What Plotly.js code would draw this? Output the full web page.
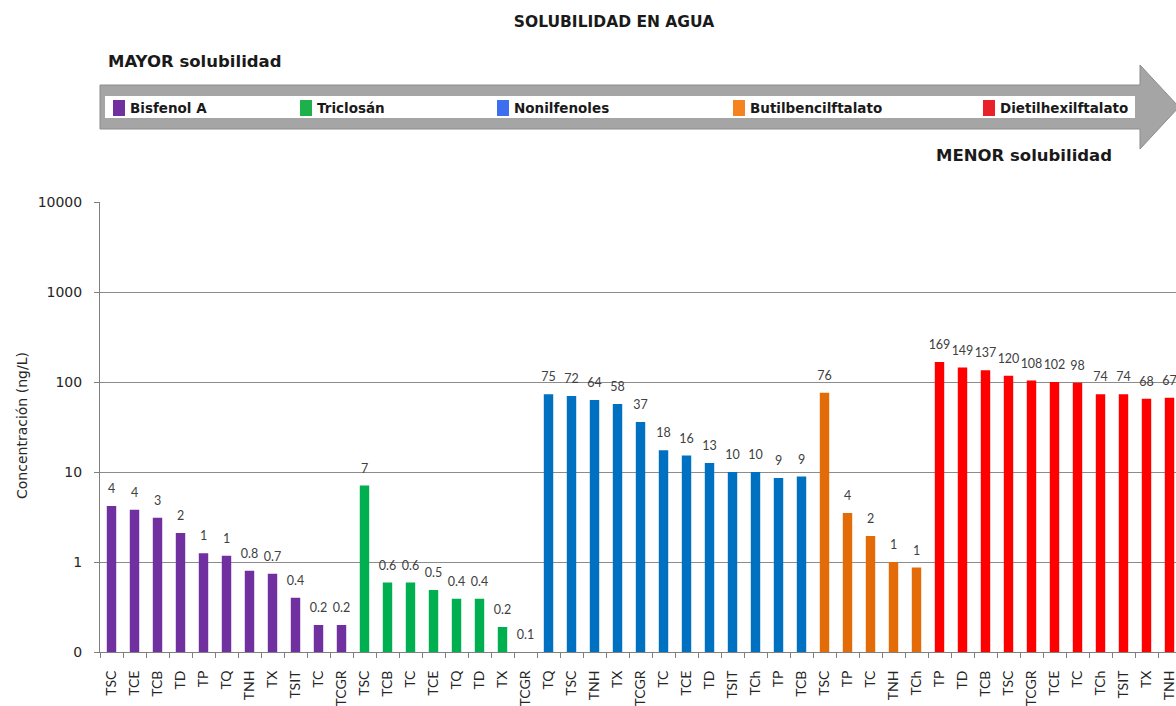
<!DOCTYPE html>
<html>
<head>
<meta charset="utf-8">
<script src="https://cdn.plot.ly/plotly-3.0.1.min.js"></script>
<style>html,body{margin:0;padding:0;background:#fff;}#chart{width:1176px;height:706px;}</style>
</head>
<body>
<div id="chart"></div>
<script>
// ---- Data ----
const groupNames = ['Bisfenol A', 'Triclosán', 'Nonilfenoles', 'Butilbencilftalato', 'Dietilhexilftalato'];

const catsBPA = ['TSC','TCE','TCB','TD','TP','TQ','TNH','TX','TSIT','TC','TCGR'];
const valsBPA = [4.2, 3.8, 3.1, 2.1, 1.25, 1.17, 0.8, 0.74, 0.40, 0.20, 0.20];
const labsBPA = ['4','4','3','2','1','1','0.8','0.7','0.4','0.2','0.2'];

const catsTCS = ['TSC','TCB','TC','TCE','TQ','TD','TX','TCGR'];
const valsTCS = [7.1, 0.59, 0.59, 0.49, 0.39, 0.39, 0.19, 0.1];
const labsTCS = ['7','0.6','0.6','0.5','0.4','0.4','0.2','0.1'];

const catsNP = ['TQ','TSC','TNH','TX','TCGR','TC','TCE','TD','TSIT','TCh','TP','TCB'];
const valsNP = [73, 70, 63, 57, 36, 17.5, 15.3, 12.6, 10, 10, 8.6, 8.9];
const labsNP = ['75','72','64','58','37','18','16','13','10','10','9','9'];

const catsBBP = ['TSC','TP','TC','TNH','TCh'];
const valsBBP = [76, 3.5, 1.95, 1.0, 0.87];
const labsBBP = ['76','4','2','1','1'];

const catsDEHP = ['TP','TD','TCB','TSC','TCGR','TCE','TC','TCh','TSIT','TX','TNH'];
const valsDEHP = [167, 145, 135, 117, 104, 100, 98, 73, 73, 65, 67];
const labsDEHP = ['169','149','137','120','108','102','98','74','74','68','67'];

const yTickVals = [0.1, 1, 10, 100, 1000, 10000];
const yTickText = ['0', '1', '10', '100', '1000', '10000'];

// ---- Styles ----
const barColors = ['#7030A0', '#00B050', '#0070C0', '#E36C09', '#FF0000'];
const chipColors = ['#7030A0', '#1DB04B', '#3D6EF0', '#F5821F', '#E8202A'];
const groups = [
  [catsBPA, valsBPA, labsBPA],
  [catsTCS, valsTCS, labsTCS],
  [catsNP, valsNP, labsNP],
  [catsBBP, valsBBP, labsBBP],
  [catsDEHP, valsDEHP, labsDEHP]
];

const W = 1176, H = 706;
const mL = 100, mR = 0, mT = 202, mB = 54;
const pw = W - mL - mR, ph = H - mT - mB;
const px = x => (x - mL) / pw;
const py = y => (H - mB - y) / ph;

let traces = [];
let labelTraces = [];
let allTickVals = [], allTickText = [];
let offset = 0;
groups.forEach((g, gi) => {
  const xs = g[0].map((c, i) => offset + i);
  xs.forEach((x, i) => { allTickVals.push(x); allTickText.push(g[0][i]); });
  traces.push({
    type: 'bar',
    x: xs,
    y: g[1],
    marker: {color: barColors[gi]},
    width: 0.41,
    name: groupNames[gi],
    hoverinfo: 'x+y',
    showlegend: false
  });
  labelTraces.push({
    type: 'scatter',
    mode: 'markers+text',
    x: xs,
    y: g[1],
    text: g[2],
    textposition: 'top center',
    textfont: {family: 'Lato, sans-serif', size: 12.5, color: '#404040'},
    marker: {size: 14, opacity: 0, color: barColors[gi]},
    cliponaxis: false,
    hoverinfo: 'skip',
    showlegend: false
  });
  offset += g[0].length;
});

// Arrow & legend decoration
const shapes = [];
const annotations = [];
const arrowPath = 'M' + px(100) + ',' + py(85) + ' L' + px(1140) + ',' + py(85) +
  ' L' + px(1140) + ',' + py(65) + ' L' + px(1179) + ',' + py(107) +
  ' L' + px(1140) + ',' + py(149) + ' L' + px(1140) + ',' + py(129) +
  ' L' + px(100) + ',' + py(129) + ' Z';
shapes.push({type: 'path', xref: 'paper', yref: 'paper', path: arrowPath,
  fillcolor: '#A5A5A5', line: {color: '#8C8C8C', width: 1}, layer: 'above'});
shapes.push({type: 'rect', xref: 'paper', yref: 'paper',
  x0: px(105), x1: px(1135), y0: py(118), y1: py(96),
  fillcolor: '#FFFFFF', line: {width: 0}, layer: 'above'});

const chipX = [113, 300, 497, 733, 983];
chipX.forEach((cx, i) => {
  shapes.push({type: 'rect', xref: 'paper', yref: 'paper',
    x0: px(cx), x1: px(cx + 12), y0: py(116), y1: py(100),
    fillcolor: chipColors[i], line: {width: 0}, layer: 'above'});
  annotations.push({xref: 'paper', yref: 'paper', x: px(cx + 15), y: py(108),
    xanchor: 'left', yanchor: 'middle', showarrow: false, text: '<b>' + groupNames[i] + '</b>',
    font: {family: 'DejaVu Sans, sans-serif', size: 13.5, color: '#1a1a1a'}});
});

annotations.push({xref: 'paper', yref: 'paper', x: px(106), y: py(61),
  xanchor: 'left', yanchor: 'middle', showarrow: false, text: '<b>MAYOR solubilidad</b>',
  font: {family: 'DejaVu Sans, sans-serif', size: 16.5, color: '#1a1a1a'}});
annotations.push({xref: 'paper', yref: 'paper', x: px(1114), y: py(155),
  xanchor: 'right', yanchor: 'middle', showarrow: false, text: '<b>MENOR solubilidad</b>',
  font: {family: 'DejaVu Sans, sans-serif', size: 16.5, color: '#1a1a1a'}});
annotations.push({xref: 'paper', yref: 'paper', x: px(22), y: py(426),
  xanchor: 'center', yanchor: 'middle', showarrow: false, textangle: -90,
  text: 'Concentración (ng/L)',
  font: {family: 'DejaVu Sans, sans-serif', size: 14, color: '#262626'}});

const layout = {
  width: W, height: H,
  margin: {l: mL, r: mR, t: mT, b: mB, pad: 0},
  paper_bgcolor: '#FFFFFF',
  plot_bgcolor: '#FFFFFF',
  title: {text: '<b>SOLUBILIDAD EN AGUA</b>', xref: 'container', yref: 'container',
    x: 614 / W, xanchor: 'center', y: 1 - 22 / H, yanchor: 'middle',
    font: {family: 'DejaVu Sans, sans-serif', size: 15.5, color: '#1a1a1a'}},
  xaxis: {
    type: 'linear',
    range: [-0.5, -0.5 + pw / 23],
    tickmode: 'array', tickvals: allTickVals, ticktext: allTickText,
    tickangle: -90, ticks: '', ticklen: 0,
    ticklabelstandoff: 12,
    ticklabeloverflow: 'allow',
    tickfont: {family: 'Lato, sans-serif', size: 14, color: '#262626'},
    showgrid: false, zeroline: false,
    showline: true, linecolor: '#7F7F7F', linewidth: 1,
    minor: {tickmode: 'linear', tick0: -0.5, dtick: 1, ticks: 'outside', ticklen: 5,
      tickcolor: '#7F7F7F', showgrid: false},
    automargin: false, fixedrange: true
  },
  yaxis: {
    type: 'log',
    range: [-1, 4],
    tickmode: 'array', tickvals: yTickVals, ticktext: yTickText,
    ticks: 'outside', ticklen: 5, tickcolor: '#7F7F7F',
    ticklabelstandoff: 9,
    tickfont: {family: 'DejaVu Sans, sans-serif', size: 14, color: '#262626'},
    showgrid: true, gridcolor: '#8C8C8C', gridwidth: 1,
    showline: true, linecolor: '#7F7F7F', linewidth: 1,
    zeroline: false, automargin: false, fixedrange: true
  },
  shapes: shapes,
  annotations: annotations,
  showlegend: false
};

Plotly.newPlot('chart', traces.concat(labelTraces), layout, {displayModeBar: false, staticPlot: true});
</script>
</body>
</html>
